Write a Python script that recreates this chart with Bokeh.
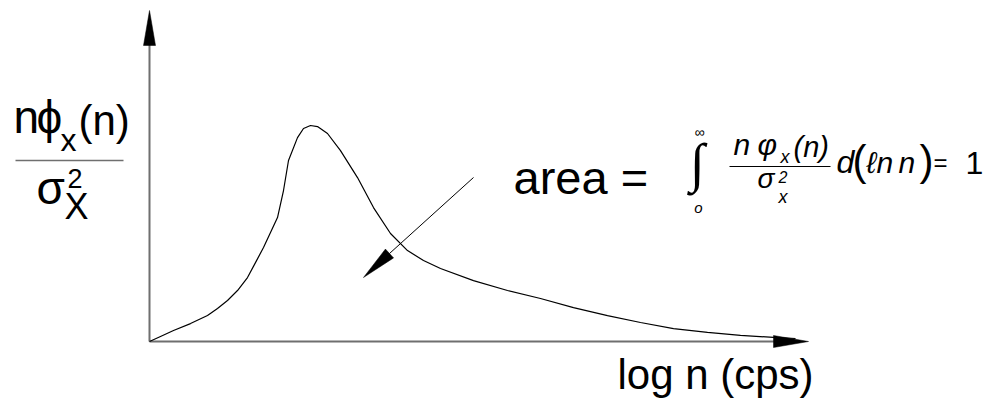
from bokeh.plotting import figure
from bokeh.models import Range1d, Label
from bokeh.embed import file_html
from bokeh.resources import INLINE

# Schematic normalized energy spectrum n*phi_x(n)/sigma_x^2 versus log n
log_n = [0.00, 0.11, 0.24, 0.41, 0.58, 0.68, 0.78, 0.88, 0.98, 1.14, 1.28, 1.34, 1.39, 1.48,
         1.54, 1.61, 1.68, 1.78, 1.91, 2.08, 2.24, 2.41, 2.58, 2.74, 2.91, 3.24, 3.58,
         3.91, 4.24, 4.58, 4.91, 5.24, 5.58, 5.91, 6.24, 6.46]
spectrum = [0.000, 0.023, 0.051, 0.083, 0.120, 0.153, 0.190, 0.236, 0.296, 0.435, 0.574, 0.699,
            0.838, 0.944, 0.986, 1.000, 0.995, 0.963, 0.884, 0.759, 0.620, 0.500, 0.421, 0.375,
            0.338, 0.282, 0.236, 0.199, 0.157, 0.120, 0.088, 0.060, 0.042, 0.028, 0.019, 0.014]

W, H = 988, 405
ORIGIN = (149, 341)      # canvas position of the axes origin
PX_X, PX_Y = 100, 216    # canvas pixels per data unit


def d(px, py):
    """Canvas pixel position -> data coordinates."""
    return (px - ORIGIN[0]) / PX_X, (ORIGIN[1] - py) / PX_Y


x_lo, y_hi = d(0, 0)
x_hi, y_lo = d(W, H)

p = figure(width=W, height=H, x_range=Range1d(x_lo, x_hi), y_range=Range1d(y_lo, y_hi),
           output_backend="svg", toolbar_location=None,
           x_axis_location=None, y_axis_location=None, min_border=0)
p.grid.visible = False
p.outline_line_color = None
p.background_fill_color = "white"
p.border_fill_color = "white"

AXIS_GRAY = "#6f6f6f"
FONT = "Liberation Sans"


def seg(a, b, color="black", width=1.0):
    (xa, ya), (xb, yb) = d(*a), d(*b)
    p.line([xa, xb], [ya, yb], line_color=color, line_width=width, line_cap="butt")


def head(tip, base_mid, half_w):
    tx, ty = tip
    bx, by = base_mid
    vx, vy = tx - bx, ty - by
    n = (vx * vx + vy * vy) ** 0.5
    nx, ny = -vy / n * half_w, vx / n * half_w
    pts = [d(tx, ty), d(bx + nx, by + ny), d(bx - nx, by - ny)]
    p.patch([q[0] for q in pts], [q[1] for q in pts], fill_color="black", line_color="black", line_width=0.5)


def label(px, py, text, size, style="normal", align="left", font=FONT):
    # py is the wanted baseline; the renderer sets glyphs ~0.34 em lower
    x, y = d(px, py - 0.34 * size)
    p.add_layout(Label(x=x, y=y, text=text, text_font=font, text_font_size=f"{size}px",
                       text_font_style=style, text_align=align, text_baseline="alphabetic",
                       text_color="black"))


# axes with arrowheads
seg(ORIGIN, (149, 44), AXIS_GRAY, 2)
head((149, 10), (149, 45), 6)
seg(ORIGIN, (775, 341), AXIS_GRAY, 2)
head((808, 341), (773, 341), 6)

# spectrum curve
p.line(log_n, spectrum, line_color="black", line_width=1.2, line_join="round")

# pointer arrow towards the area under the curve
seg((473, 177), (389, 253), "black", 1)
head((363, 277), (389, 253), 6)

# y-axis label: n phi_x(n) / sigma_x^2
label(13, 132, "n", 46)
label(36, 132, "\u03d5", 46)
label(60, 150, "x", 32)
label(78, 134, "(n)", 42)
seg((15, 160), (123, 160), AXIS_GRAY, 1.5)
label(36, 203, "\u03c3", 46)
label(67, 187, "2", 27)
label(64, 218, "X", 36)

# x-axis label
label(617, 388, "log n (cps)", 42)

# area statement
label(513, 193, "area =", 47)
label(699, 136, "\u221e", 14, align="center")
label(697, 181, "\u222b", 54, align="center", font="Liberation Serif")
label(698, 212, "o", 15, style="italic", align="center")

label(733, 154, "n", 30, "italic")
label(757, 154, "\u03c6", 30, "italic")
label(780, 163, "x", 18, "italic")
label(793, 156, "(n)", 29, "italic")
seg((729, 166), (830, 166), "black", 1)
label(757, 188, "\u03c3", 28, "italic")
label(778, 182, "2", 16, "italic")
label(778, 203, "x", 18, "italic")

label(836, 172, "d", 32, "italic")
label(852, 174, "(", 42)
label(866, 172, "\u2113", 30, "italic")
label(876, 172, "n", 30, "italic")
label(898, 172, "n", 30, "italic")
label(919, 174, ")", 42)
label(933, 170, "=", 24)
label(965, 173, "1", 32)

open("out.html", "w").write(file_html(p, INLINE))
